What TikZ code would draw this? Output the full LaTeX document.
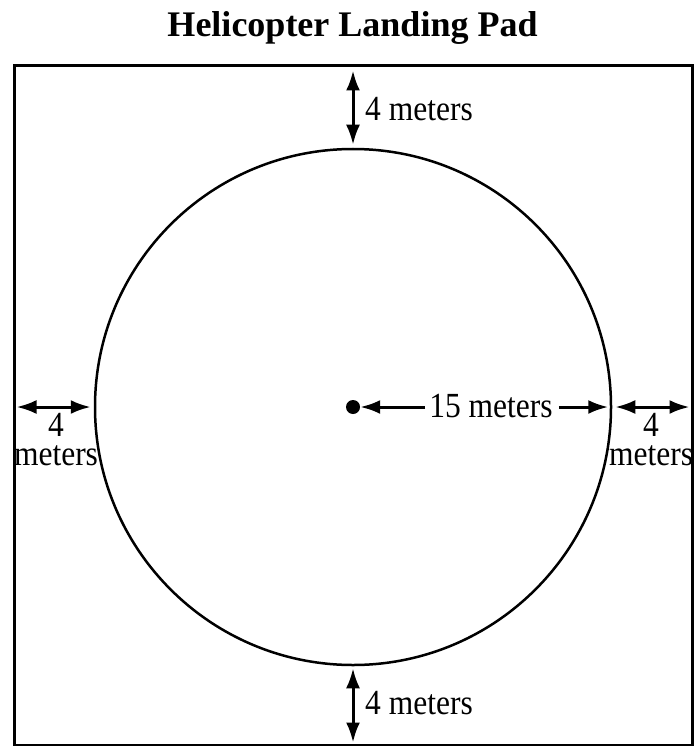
\documentclass[tikz,border=0pt]{standalone}
\usepackage{fontspec}
\setmainfont{Liberation Serif}
\usetikzlibrary{arrows.meta}
\newcommand{\lbl}[1]{\scalebox{1}[1.12]{\fontsize{31.5}{26.5}\selectfont #1}}
\newcommand{\twoline}[2]{\lbl{\begin{tabular}[t]{@{}c@{}}#1\\#2\end{tabular}}}
\tikzset{
  dim/.style={line width=3pt, {Latex[length=20pt,width=14pt]}-{Latex[length=20pt,width=14pt]}},
  dimR/.style={line width=3pt, -{Latex[length=20pt,width=14pt]}},
  lab/.style={inner sep=0pt, anchor=base},
}
\begin{document}
\begin{tikzpicture}[x=1pt,y=-1pt]
\useasboundingbox (0,0) rectangle (694,746);
\fill[white] (0,0) rectangle (694,746);
% title
\node[lab] (title) at (352.5,37) {\fontsize{36}{36}\selectfont\bfseries Helicopter Landing Pad};
% square pad
\node[draw, line width=3pt, minimum width=678pt, minimum height=679pt, inner sep=0pt] (sq) at (353,405.5) {};
% circle
\node[draw, circle, line width=2.5pt, minimum size=516pt, inner sep=0pt] (pad) at (353,407) {};
% center dot
\node[fill, circle, minimum size=14pt, inner sep=0pt] (ctr) at (353,407) {};
% coordinates
\coordinate (sqT) at (sq.north -| pad.center);
\coordinate (sqB) at (sq.south -| pad.center);
\coordinate (sqL) at (sq.west |- pad.center);
\coordinate (sqR) at (sq.east |- pad.center);
% vertical dims
\draw[dim, shorten <=6pt, shorten >=3pt] (sqT) -- (pad.north);
\draw[dim, shorten <=2pt, shorten >=4pt] (pad.south) -- (sqB);
\node[lab, anchor=base west] (tT) at (365,121) {\lbl{4 meters}};
\node[lab, anchor=base west] (tB) at (365,714) {\lbl{4 meters}};
% horizontal dims
\draw[dim, shorten <=4pt, shorten >=3pt] (sqL) -- (pad.west);
\draw[dim, shorten <=3pt, shorten >=4pt] (pad.east) -- (sqR);
\node[lab] (lt) at (56,436) {\twoline{4}{meters}};
\node[lab] (rt) at (651,436) {\twoline{4}{meters}};
% radius
\node[lab] (rad) at (491,417) {\lbl{15 meters}};
\coordinate (radL) at (rad.west |- ctr);
\coordinate (radR) at (rad.east |- ctr);
\draw[dimR, shorten <=4pt] (radL) -- (ctr.east);
\draw[dimR, shorten <=6pt, shorten >=4pt] (radR) -- (pad.east);
\end{tikzpicture}
\end{document}
